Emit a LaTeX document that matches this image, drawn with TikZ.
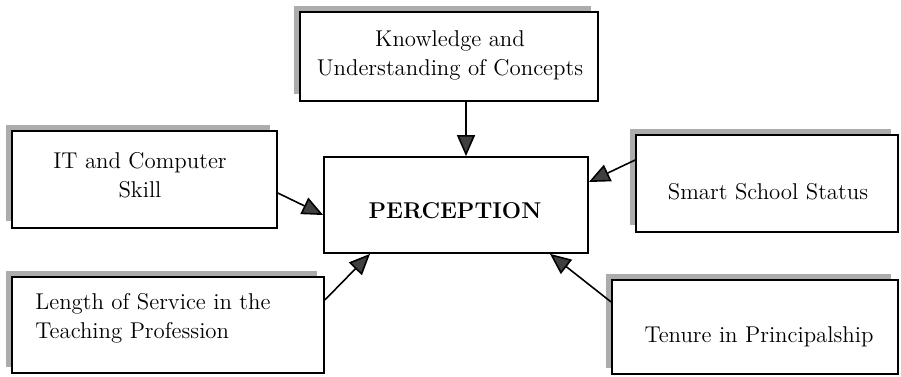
\documentclass[tikz,border=0pt]{standalone}
\usetikzlibrary{arrows.meta, shadows, calc}

\begin{document}
\begin{tikzpicture}[x=0.02cm, y=-0.02cm,
    factor/.style={draw, line width=1pt, fill=white, inner sep=0pt,
        drop shadow={shadow xshift=-0.13cm, shadow yshift=0.13cm, fill=gray!65, opacity=1}},
    label/.style={font=\fontsize{13}{16.5}\selectfont, align=center, inner sep=0pt},
    link/.style={line width=0.9pt, -{Triangle[length=0.42cm, width=0.36cm, fill=black!75]}}]
    \useasboundingbox (0,0) rectangle (901,376);

    % Central box
    \node[draw, line width=1pt, minimum width=5.28cm, minimum height=1.92cm] (perc) at (456,205) {};
    \node[label] (perctext) at (455,211) {\textbf{PERCEPTION}};

    % Boxes round it
    \node[factor, minimum width=5.96cm, minimum height=1.78cm] (know) at (449,56.5) {};
    \node[label] (knowtext) at (450,55) {Knowledge and\\Understanding of Concepts};

    \node[factor, minimum width=5.3cm, minimum height=1.94cm] (it) at (144.5,179.5) {};
    \node[label] (ittext) at (140,175) {IT and Computer\\Skill};

    \node[factor, minimum width=5.24cm, minimum height=1.94cm] (smart) at (767,183.5) {};
    \node[label] (smarttext) at (768,192) {Smart School Status};

    \node[factor, minimum width=6.24cm, minimum height=1.92cm] (length) at (168,325) {};
    \node[label, anchor=west, align=left] (lengthtext) at (35,318) {Length of Service in the\\Teaching Profession};

    \node[factor, minimum width=5.72cm, minimum height=1.88cm] (tenure) at (755,327) {};
    \node[label] (tenuretext) at (759,337) {Tenure in Principalship};

    % Arrows into the centre
    \draw[link] ($(know.south)+(17,0)$) -- ($(perc.north)+(10,0)$);
    \draw[link] ($(it.east)+(0,13.5)$) -- ($(perc.west)+(0,10)$);
    \draw[link] ($(smart.west)+(0,-23.5)$) -- ($(perc.east)+(0,-23)$);
    \draw[link] ($(length.east)+(0,-25)$) -- ($(perc.south)+(-86,0)$);
    \draw[link] ($(tenure.west)+(0,-25)$) -- ($(perc.south)+(94,0)$);
\end{tikzpicture}
\end{document}
